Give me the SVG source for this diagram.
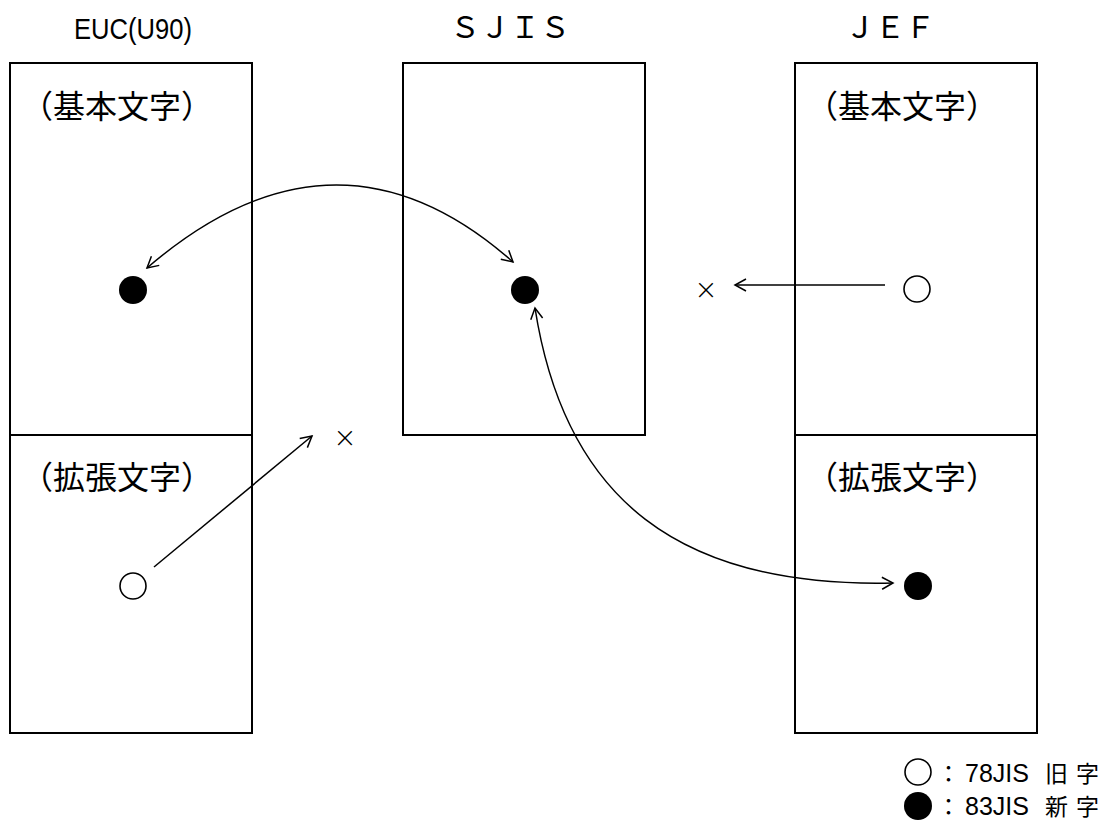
<svg xmlns="http://www.w3.org/2000/svg" width="1118" height="825" viewBox="0 0 1118 825">
<style>
.box{fill:none;stroke:#000;stroke-width:2}
.div{stroke:#000;stroke-width:2}
.lbl{font-family:"Noto Sans CJK JP","Liberation Sans",sans-serif;font-size:32px;fill:#000}
.ttl{font-family:"Liberation Sans","Noto Sans CJK JP",sans-serif;font-size:30px;fill:#000}
.ttlw{font-family:"Noto Sans CJK JP",sans-serif;font-size:30px;fill:#000}
.new{fill:#000}
.old{fill:#fff;stroke:#000;stroke-width:1.6}
.con{fill:none;stroke:#000;stroke-width:1.5}
.x{font-family:"DejaVu Sans",sans-serif;font-weight:200;font-size:28px;fill:#000;text-anchor:middle}
.leg{font-family:"Noto Sans CJK JP","Liberation Sans",sans-serif;font-size:23px;fill:#000}
.legl{font-family:"Liberation Sans",sans-serif;font-size:25px}
.legk{letter-spacing:8px}
</style>
<defs>
<marker id="ah" markerUnits="userSpaceOnUse" markerWidth="16" markerHeight="16" viewBox="-14 -8 16 16" refX="0" refY="0" orient="auto-start-reverse">
<path d="M-11,-6 L0,0 L-11,6" fill="none" stroke="#000" stroke-width="1.5"/>
</marker>
</defs>
<rect width="1118" height="825" fill="#fff"/>

<g id="euc">
<text class="ttl" x="74" y="39" textLength="118" lengthAdjust="spacingAndGlyphs">EUC(U90)</text>
<rect class="box" x="10" y="63" width="242" height="670"/>
<line class="div" x1="10" y1="435" x2="252" y2="435"/>
<text class="lbl" x="21" y="118">（基本文字）</text>
<text class="lbl" x="21" y="489">（拡張文字）</text>
</g>

<g id="sjis">
<text class="ttlw" x="450" y="38">ＳＪＩＳ</text>
<rect class="box" x="403" y="63" width="242" height="372"/>
</g>

<g id="jef">
<text class="ttlw" x="845" y="38">ＪＥＦ</text>
<rect class="box" x="795" y="63" width="242" height="670"/>
<line class="div" x1="795" y1="435" x2="1037" y2="435"/>
<text class="lbl" x="806" y="118">（基本文字）</text>
<text class="lbl" x="806" y="489">（拡張文字）</text>
</g>

<g id="euc-basic-dot"><circle class="new" cx="133" cy="290" r="14"/></g>
<g id="euc-ext-dot"><circle class="old" cx="133" cy="586" r="13"/></g>
<g id="sjis-dot"><circle class="new" cx="525" cy="290" r="14"/></g>
<g id="jef-basic-dot"><circle class="old" cx="917" cy="289" r="13"/></g>
<g id="jef-ext-dot"><circle class="new" cx="918" cy="586" r="14"/></g>
<g id="x-mid"><text class="x" x="706" y="299">×</text></g>
<g id="x-left"><text class="x" x="345" y="447">×</text></g>

<g id="connectors">
<path class="con" d="M147,268 Q336,105 513,262" marker-start="url(#ah)" marker-end="url(#ah)"/>
<path class="con" d="M535,308 C565,500 680,588 893,583" marker-start="url(#ah)" marker-end="url(#ah)"/>
<path class="con" d="M885,285 L735,285" marker-end="url(#ah)"/>
<path class="con" d="M154,567 L312,436" marker-end="url(#ah)"/>
</g>

<g id="legend">
<circle class="old" cx="918" cy="772" r="13"/>
<text class="leg" y="782"><tspan x="937">：</tspan><tspan class="legl" x="965">78JIS </tspan><tspan class="legk" x="1045">旧字</tspan></text>
<circle class="new" cx="918" cy="806" r="14"/>
<text class="leg" y="815"><tspan x="937">：</tspan><tspan class="legl" x="965">83JIS </tspan><tspan class="legk" x="1045">新字</tspan></text>
</g>
</svg>
